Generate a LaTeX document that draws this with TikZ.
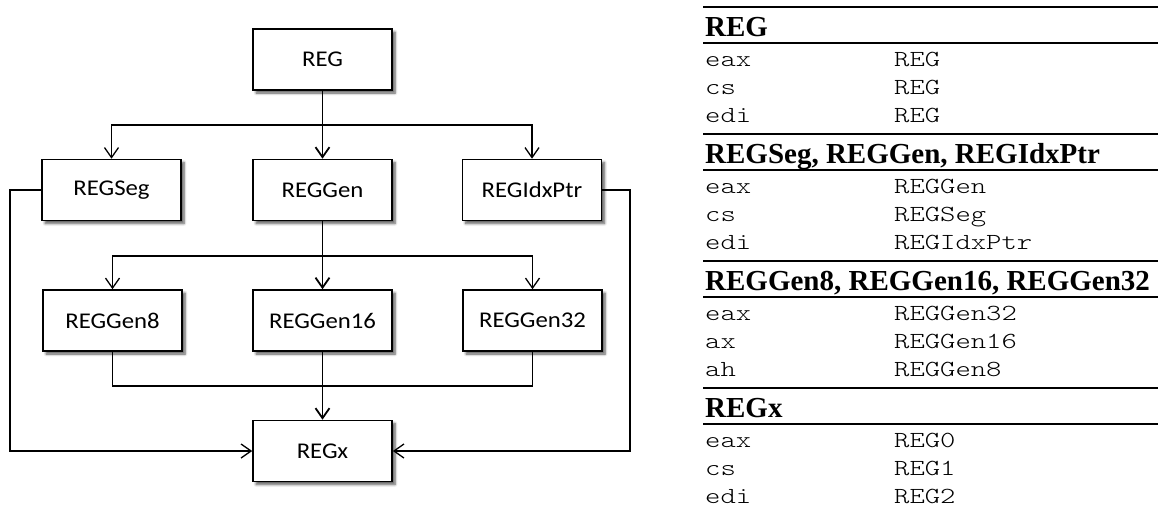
\documentclass[tikz,border=0pt]{standalone}
\usepackage{fontspec}
\usetikzlibrary{arrows.meta,shadows.blur}
\newfontfamily\boxfont[FakeStretch=1.1]{Carlito}
\newfontfamily\headfont{Liberation Serif}
\newfontfamily\codefont[FakeStretch=1.27]{lmmonolt10-regular.otf}

\begin{document}
\begin{tikzpicture}[x=1pt,y=-1pt,
  box/.style={draw, line width=1.6pt, fill=white, minimum width=139pt,
    minimum height=61pt, inner sep=0pt,
    font=\boxfont\fontsize{22.5}{27}\selectfont,
    blur shadow={shadow xshift=3pt, shadow yshift=-3pt,
      shadow blur steps=6, shadow blur radius=2.5pt, shadow opacity=65}},
  con/.style={line width=1.3pt},
  trunk/.style={line width=1.8pt},
  arr/.style={-{Straight Barb[length=10pt,width=14pt]}},
  rule/.style={line width=2pt},
  head/.style={anchor=base west, inner sep=0pt,
    font=\headfont\bfseries\fontsize{29}{33}\selectfont},
  code/.style={anchor=base west, inner sep=0pt,
    font=\codefont\fontsize{23}{27}\selectfont}]

\useasboundingbox (0,0) rectangle (1158,515);

% ---- class hierarchy ----
\node[box] (REG)       at (322.5,59.5) {REG};
\node[box] (REGSeg)    at (111.5,190)  {REGSeg};
\node[box] (REGGen)    at (322.5,190)  {REGGen};
\node[box] (REGIdxPtr) at (532,190)    {REGIdxPtr};
\node[box] (REGGen8)   at (112.5,320.5) {REGGen8};
\node[box] (REGGen16)  at (322.5,320.5) {REGGen16};
\node[box] (REGGen32)  at (532.5,320.5) {REGGen32};
\node[box] (REGx)      at (322.5,451)  {REGx};

\coordinate (b1) at (322.5,125);
\coordinate (b2) at (322.5,256);
\coordinate (m)  at (322.5,386);
\coordinate (sl) at (10,190);
\coordinate (sr) at (630,190);

% REG to its three children
\draw[trunk] (REG.south) -- (b1);
\draw[con,arr] (b1) -| (REGSeg.north);
\draw[con,arr] (b1) -| (REGIdxPtr.north);
\draw[trunk,arr] (b1) -- (REGGen.north);

% REGGen to the sized registers
\draw[trunk] (REGGen.south) -- (b2);
\draw[con,arr] (b2) -| (REGGen8.north);
\draw[con,arr] (b2) -| (REGGen32.north);
\draw[trunk,arr] (b2) -- (REGGen16.north);

% sized registers merge into REGx
\draw[con] (REGGen8.south) |- (m) -| (REGGen32.south);
\draw[trunk,arr] (REGGen16.south) -- (REGx.north);

% side links
\draw[con,arr] (REGSeg.west) -- (sl) |- (REGx.west);
\draw[con,arr] (REGIdxPtr.east) -- (sr) |- (REGx.east);

% ---- lookup table ----
\foreach \t/\h/\ra/\rb/\rc/\va/\vb/\vc [count=\i] in {
  7/REG/eax/cs/edi/REG/REG/REG,
  134/{REGSeg, REGGen, REGIdxPtr}/eax/cs/edi/REGGen/REGSeg/REGIdxPtr,
  261/{REGGen8, REGGen16, REGGen32}/eax/ax/ah/REGGen32/REGGen16/REGGen8,
  388/REGx/eax/cs/edi/REG0/REG1/REG2}{
  \draw[rule] (703,\t) -- (1158,\t);
  \draw[rule] (703,\t+35.5) -- (1158,\t+35.5);
  \node[head] (h\i) at (705,\t+29) {\h};
  \node[code] (ka\i) at (705,\t+59.5) {\ra};
  \node[code] (kb\i) at (705,\t+87.5) {\rb};
  \node[code] (kc\i) at (705,\t+115.5) {\rc};
  \node[code] (va\i) at (894,\t+59.5) {\va};
  \node[code] (vb\i) at (894,\t+87.5) {\vb};
  \node[code] (vc\i) at (894,\t+115.5) {\vc};
}
\end{tikzpicture}
\end{document}
